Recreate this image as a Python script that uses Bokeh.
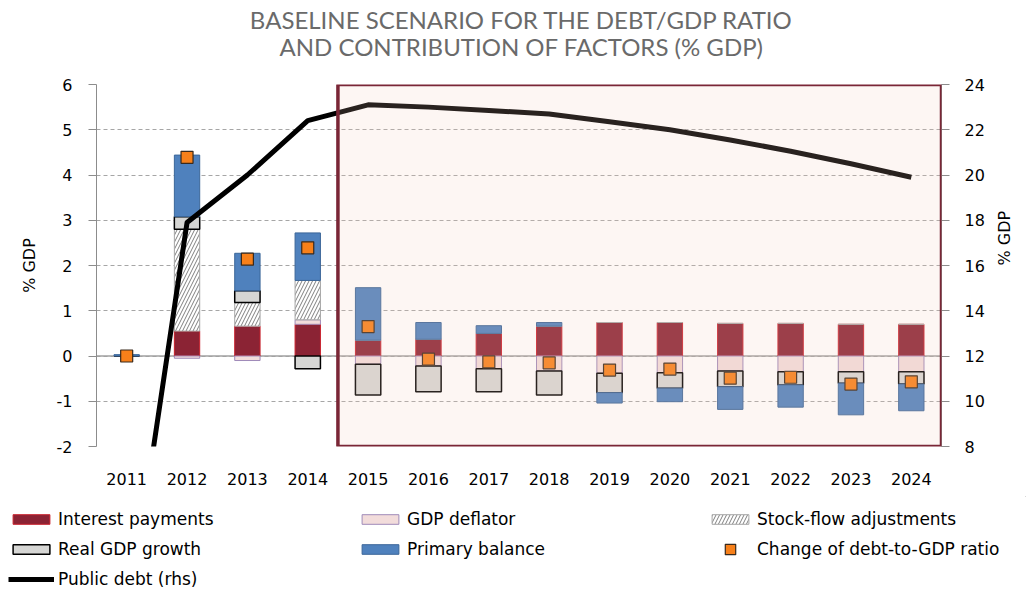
import numpy as np
from bokeh.plotting import figure
from bokeh.models import (Range1d, LinearAxis, Legend, LegendItem, Span, Label,
                          FixedTicker, BoxAnnotation)
from bokeh.embed import file_html
from bokeh.resources import INLINE

# ---------------- data ----------------
years = [2011, 2012, 2013, 2014, 2015, 2016, 2017, 2018, 2019, 2020, 2021, 2022, 2023, 2024]
interest_payments = [0.0, 0.55, 0.66, 0.70, 0.35, 0.37, 0.50, 0.66, 0.74, 0.74, 0.72, 0.72, 0.70, 0.70]
gdp_deflator = [0.0, -0.05, -0.10, 0.10, -0.18, -0.22, -0.28, -0.33, -0.38, -0.37, -0.33, -0.35, -0.35, -0.35]
stock_flow = [0.0, 2.25, 0.52, 0.87, 0.0, 0.0, 0.0, 0.0, 0.0, 0.0, 0.0, 0.0, 0.0, 0.0]
real_gdp_growth = [0.0, 0.28, 0.26, -0.28, -0.68, -0.57, -0.51, -0.53, -0.43, -0.34, -0.35, -0.29, -0.25, -0.27]
primary_balance = [0.03, 1.36, 0.83, 1.05, 1.16, 0.37, 0.17, 0.08, -0.23, -0.30, -0.50, -0.49, -0.70, -0.59]
change_debt_ratio = [0.0, 4.39, 2.14, 2.39, 0.65, -0.07, -0.13, -0.15, -0.31, -0.29, -0.49, -0.47, -0.62, -0.57]
public_debt = [0.0, 17.9, 20.0, 22.4, 23.1, 23.0, 22.85, 22.7, 22.35, 22.0, 21.55, 21.05, 20.5, 19.9]
forecast_start = 2015

left_ticks = [-2, -1, 0, 1, 2, 3, 4, 5, 6]
right_ticks = [8, 10, 12, 14, 16, 18, 20, 22, 24]

title_line1 = "BASELINE SCENARIO FOR THE DEBT/GDP RATIO"
title_line2 = "AND CONTRIBUTION OF FACTORS (% GDP)"

AX_FONT = "DejaVu Sans"
W = 1026
H_T, H_M, H_L = 74, 422, 96


def strip(height):
    f = figure(width=W, height=height, output_backend="svg", toolbar_location=None,
               title=None, x_range=Range1d(0, 1), y_range=Range1d(0, 1),
               x_axis_location=None, y_axis_location=None,
               min_border_left=0, min_border_right=0,
               min_border_top=0, min_border_bottom=0)
    f.outline_line_color = None
    f.xgrid.visible = False
    f.ygrid.visible = False
    return f


# ---------------- title strip ----------------
tf = strip(H_T)
for txt, yc in ((title_line1, 19), (title_line2, 46)):
    tf.add_layout(Label(x=521, y=H_T - yc, x_units="screen", y_units="screen",
                        text=txt, text_align="center", text_baseline="middle",
                        text_font="Lato", text_font_size="24px",
                        text_color="#6A6A6A"))

# ---------------- main figure ----------------
p = figure(width=W, height=H_M, output_backend="svg", toolbar_location=None,
           title=None,
           x_range=Range1d(years[0] - 0.5, years[-1] + 0.5),
           y_range=Range1d(left_ticks[0], left_ticks[-1]),
           min_border_left=96, min_border_right=81, min_border_top=10,
           min_border_bottom=H_M - 372)
p.outline_line_color = None
p.background_fill_color = "white"
p.border_fill_color = "white"
p.extra_y_ranges = {"debt": Range1d(right_ticks[0], right_ticks[-1])}

ya = p.yaxis[0]
ya.ticker = FixedTicker(ticks=left_ticks)
ya.major_label_overrides = {t: str(t) for t in left_ticks}
ya.axis_line_color = "#8C8C8C"
ya.major_tick_line_color = "#8C8C8C"
ya.major_tick_out = 8
ya.major_tick_in = 0
ya.minor_tick_line_color = None
ya.major_label_standoff = 16
ya.major_label_text_font = AX_FONT
ya.major_label_text_font_size = "16px"
ya.major_label_text_color = "black"
ya.axis_label = "% GDP"
ya.axis_label_text_font = AX_FONT
ya.axis_label_text_font_size = "16px"
ya.axis_label_text_font_style = "normal"
ya.axis_label_text_color = "black"
ya.axis_label_standoff = 15

ra = LinearAxis(y_range_name="debt", ticker=FixedTicker(ticks=right_ticks))
ra.axis_line_color = "#8C8C8C"
ra.major_tick_line_color = "#8C8C8C"
ra.major_tick_out = 8
ra.major_tick_in = 0
ra.minor_tick_line_color = None
ra.major_label_standoff = 15
ra.major_label_text_font = AX_FONT
ra.major_label_text_font_size = "16px"
ra.major_label_text_color = "black"
ra.axis_label = "% GDP"
ra.axis_label_text_font = AX_FONT
ra.axis_label_text_font_size = "16px"
ra.axis_label_text_font_style = "normal"
ra.axis_label_text_color = "black"
ra.axis_label_standoff = 17
if "axis_label_orientation" in ra.properties():
    ra.axis_label_orientation = np.pi / 2
p.add_layout(ra, "right")

xa = p.xaxis[0]
xa.ticker = FixedTicker(ticks=years)
xa.axis_line_color = None
xa.major_tick_line_color = None
xa.minor_tick_line_color = None
xa.major_label_standoff = 20
xa.major_label_text_font = AX_FONT
xa.major_label_text_font_size = "16px"
xa.major_label_text_color = "black"

p.xgrid.grid_line_color = None
p.ygrid.ticker = FixedTicker(ticks=left_ticks)
p.ygrid.grid_line_color = "#A6A6A6"
p.ygrid.grid_line_dash = "4 3"
p.ygrid.grid_line_width = 1

p.add_layout(Span(location=0, dimension="width", line_color="#A0A0A0",
                  line_width=1.5, level="underlay"))

series = [
    ("Interest payments", interest_payments,
     dict(fill_color="#8B2334", line_color="#C8202C", line_width=1)),
    ("GDP deflator", gdp_deflator,
     dict(fill_color="#F2DCDB", line_color="#9F8AB8", line_width=1)),
    ("Stock-flow adjustments", stock_flow,
     dict(fill_color="white", line_color="#A6A6A6", line_width=1,
          hatch_pattern="/", hatch_color="#7F7F7F", hatch_scale=7, hatch_weight=1)),
    ("Real GDP growth", real_gdp_growth,
     dict(fill_color="#D6D6D4", line_color="black", line_width=1.5)),
    ("Primary balance", primary_balance,
     dict(fill_color="#4F81BD", line_color="#3B6699", line_width=1)),
]
line_style = dict(line_color="black", line_width=5, line_join="round")
marker_style = dict(marker="square", size=12, fill_color="#F7801A",
                    line_color="#3A2A1C", line_width=1.2)

x = np.array(years, dtype=float)
pos_base = np.zeros(len(years))
neg_base = np.zeros(len(years))
stacks = []
for name, vals, style in series:
    v = np.array(vals, dtype=float)
    bottom = np.where(v >= 0, pos_base, neg_base)
    top = bottom + v
    pos_base = np.where(v >= 0, top, pos_base)
    neg_base = np.where(v < 0, top, neg_base)
    stacks.append((name, bottom, top, style))
    p.vbar(x=x, bottom=bottom, top=top, width=0.42, **style)

p.line(x=x, y=public_debt, y_range_name="debt", **line_style)
p.scatter(x=x, y=change_debt_ratio, **marker_style)

p.add_layout(BoxAnnotation(left=forecast_start - 0.5, right=years[-1] + 0.5,
                           fill_color="#F3C8B6", fill_alpha=0.17,
                           line_color="#7A2636", line_alpha=1.0, line_width=3.5))

# ---------------- legend strip ----------------
lf = strip(H_L)
leg_r = {}
for name, bottom, top, style in stacks:
    # same series, drawn outside the strip's visible range (legend swatches only)
    leg_r[name] = lf.vbar(x=x, bottom=bottom, top=top, width=0.42, **style)
leg_line = lf.line(x=x, y=public_debt, **line_style)
leg_mark = lf.scatter(x=x, y=change_debt_ratio, **marker_style)

common = dict(glyph_width=46, label_standoff=4, label_width=299, label_height=30,
              spacing=0, padding=0, border_line_color=None,
              background_fill_alpha=0, label_text_font=AX_FONT,
              label_text_font_size="17px", label_text_color="black")

legend_a = Legend(items=[
    LegendItem(label="Interest payments", renderers=[leg_r["Interest payments"]]),
    LegendItem(label="GDP deflator", renderers=[leg_r["GDP deflator"]]),
    LegendItem(label="Real GDP growth", renderers=[leg_r["Real GDP growth"]]),
    LegendItem(label="Primary balance", renderers=[leg_r["Primary balance"]]),
    LegendItem(label="Public debt (rhs)", renderers=[leg_line]),
], orientation="horizontal", ncols=2, location="top_left", margin=8,
    glyph_height=12, **common)
legend_b = Legend(items=[
    LegendItem(label="Stock-flow adjustments", renderers=[leg_r["Stock-flow adjustments"]]),
], location=(707, H_L - 8 - 30), margin=0, glyph_height=12, **common)
legend_c = Legend(items=[
    LegendItem(label="Change of debt-to-GDP ratio", renderers=[leg_mark]),
], location=(707, H_L - 38 - 30), margin=0, glyph_height=26, **common)
for lg in (legend_a, legend_b, legend_c):
    lf.add_layout(lg, "center")

open("out.html", "w").write(file_html([tf, p, lf], INLINE))
